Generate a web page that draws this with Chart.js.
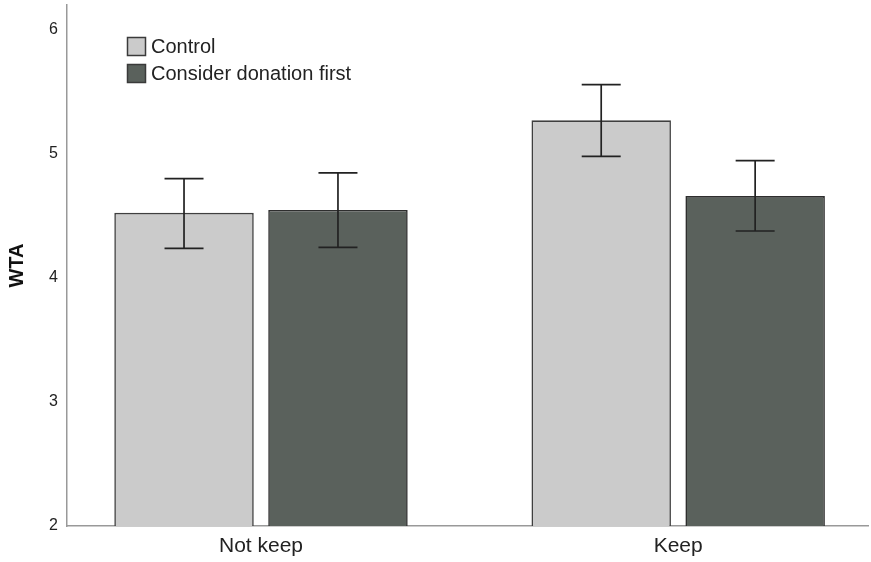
<!DOCTYPE html>
<html>
<head>
<meta charset="utf-8">
<script src="https://cdn.jsdelivr.net/npm/chart.js@4.4.1/dist/chart.umd.min.js"></script>
<style>
  html, body { margin: 0; padding: 0; background: #fff; }
  #wrap { width: 871px; height: 562px; position: relative; }
</style>
</head>
<body>
<div id="wrap"><canvas id="chart" width="871" height="562"></canvas></div>
<script>
/* ---------------- Data ---------------- */

const categories = ["Not keep", "Keep"];
const seriesNames = ["Control", "Consider donation first"];
const controlMeans = [4.525, 5.27];
const controlLow = [4.238, 4.98];
const controlHigh = [4.8, 5.558];
const considerMeans = [4.548, 4.66];
const considerLow = [4.246, 4.378];
const considerHigh = [4.846, 4.945];
const yTicks = [2, 3, 4, 5, 6];

const colors = ["#cbcbcb", "#5a615c"];
const FONT = "'Liberation Sans', Arial, sans-serif";

/* ---------------- Plugins ---------------- */

const errorBars = {
    id: "errorBars",
    afterDatasetsDraw(chart) {
        const ctx = chart.ctx;
        const y = chart.scales.y;
        ctx.save();
        ctx.strokeStyle = "#222";
        ctx.lineWidth = 1.7;
        chart.data.datasets.forEach((ds, i) => {
            const meta = chart.getDatasetMeta(i);
            meta.data.forEach((bar, j) => {
                const top = y.getPixelForValue(ds.high[j]);
                const bot = y.getPixelForValue(ds.low[j]);
                const half = 19.5;
                ctx.beginPath();
                ctx.moveTo(bar.x, top);
                ctx.lineTo(bar.x, bot);
                ctx.moveTo(bar.x - half, top);
                ctx.lineTo(bar.x + half, top);
                ctx.moveTo(bar.x - half, bot);
                ctx.lineTo(bar.x + half, bot);
                ctx.stroke();
            });
        });
        ctx.restore();
    }
};

const boxLegend = {
    id: "boxLegend",
    afterDraw(chart) {
        const ctx = chart.ctx;
        ctx.save();
        ctx.font = "20px " + FONT;
        ctx.textBaseline = "middle";
        chart.data.datasets.forEach((ds, i) => {
            const top = 37 + i * 27;
            ctx.fillStyle = ds.backgroundColor;
            ctx.fillRect(127, top, 19, 19);
            ctx.strokeStyle = "#3a3a3a";
            ctx.lineWidth = 1.5;
            ctx.strokeRect(127.5, top + 0.5, 18, 18);
            ctx.fillStyle = "#222";
            ctx.fillText(ds.label, 151, top + 10);
        });
        ctx.restore();
    }
};

/* ---------------- Chart ---------------- */

const ctx = document.getElementById("chart").getContext("2d");

new Chart(ctx, {
    type: "bar",
    data: {
        datasets: [
            {
                label: seriesNames[0],
                data: controlMeans.map((v, i) => ({ x: i, y: v })),
                low: controlLow,
                high: controlHigh,
                backgroundColor: colors[0],
                borderColor: "#3f3f3f",
                borderWidth: 1.6,
                borderSkipped: false
            },
            {
                label: seriesNames[1],
                data: considerMeans.map((v, i) => ({ x: i, y: v })),
                low: considerLow,
                high: considerHigh,
                backgroundColor: colors[1],
                borderColor: "#2e2e2e",
                borderWidth: 1.6,
                borderSkipped: false
            }
        ]
    },
    options: {
        responsive: false,
        animation: false,
        categoryPercentage: 0.738,
        barPercentage: 0.906,
        layout: { padding: { top: 5, right: 3, left: 0, bottom: 0 } },
        plugins: {
            legend: { display: false },
            tooltip: { enabled: false }
        },
        scales: {
            x: {
                type: "linear",
                offset: false,
                min: -0.465,
                max: 1.455,
                grid: { display: false, drawTicks: false },
                border: { display: true, color: "#999", width: 1.5 },
                afterBuildTicks(scale) {
                    scale.ticks = categories.map((c, i) => ({ value: i }));
                },
                afterFit(scale) {
                    scale.height = 36;
                    scale.paddingLeft = 0;
                    scale.paddingRight = 0;
                },
                ticks: {
                    autoSkip: false,
                    maxRotation: 0,
                    padding: 8,
                    color: "#222",
                    font: { family: FONT, size: 21 },
                    callback: (v) => categories[v]
                }
            },
            y: {
                min: 2,
                max: 6.2,
                grid: { display: false, drawTicks: false },
                border: { display: true, color: "#999", width: 1.5 },
                afterBuildTicks(scale) {
                    scale.ticks = yTicks.map(v => ({ value: v }));
                },
                afterFit(scale) {
                    scale.width = 67;
                    scale.paddingTop = 0;
                    scale.paddingBottom = 0;
                },
                ticks: {
                    padding: 9,
                    color: "#222",
                    font: { family: FONT, size: 16 }
                },
                title: {
                    display: true,
                    text: "WTA",
                    color: "#111",
                    padding: { top: 5, bottom: 0 },
                    font: { family: FONT, size: 20, weight: "bold" }
                }
            }
        }
    },
    plugins: [errorBars, boxLegend]
});
</script>
</body>
</html>
